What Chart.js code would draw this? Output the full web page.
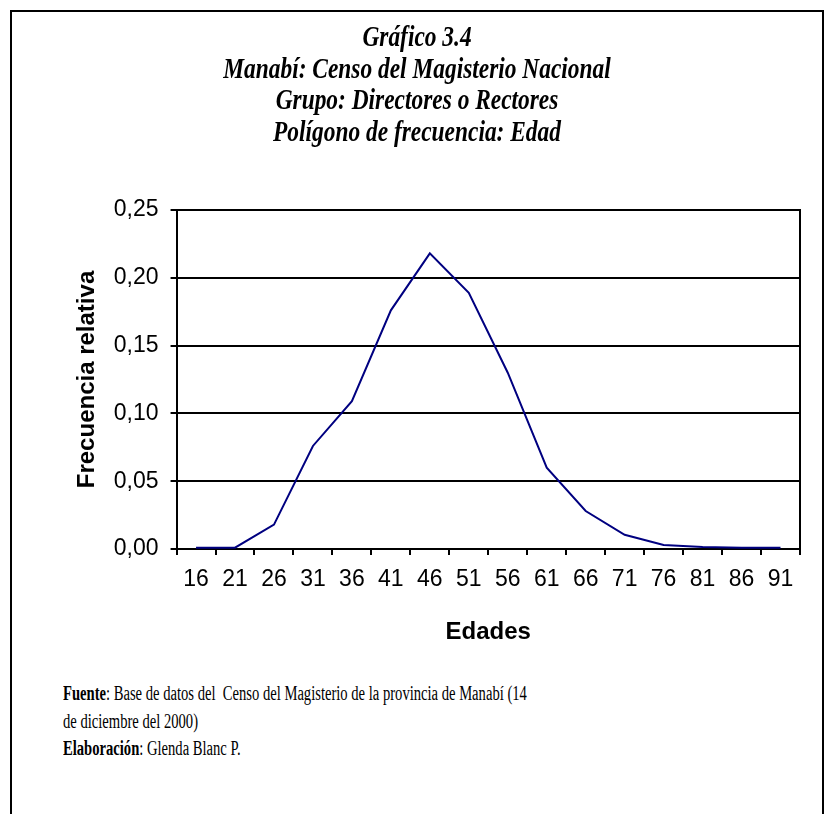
<!DOCTYPE html>
<html>
<head>
<meta charset="utf-8">
<script src="https://cdn.jsdelivr.net/npm/chart.js@4"></script>
<style>
  body { margin: 0; background: #fff; }
  #frame {
    position: absolute; left: 10px; top: 10px; width: 810px; height: 820px;
    border: 2px solid #000; border-bottom: none;
  }
  #box { position: absolute; left: 0; top: 0; width: 834px; height: 660px; }
  #titulo {
    position: absolute; left: 0; top: 20px; width: 834px; text-align: center;
    font-family: "Liberation Serif", serif; font-weight: bold; font-style: italic;
    font-size: 30px; line-height: 31.7px; color: #000;
    transform: scaleX(0.78); transform-origin: 417px 0;
  }
  #foot {
    position: absolute; left: 63px; top: 680px; white-space: nowrap;
    font-family: "Liberation Serif", serif; font-size: 20px; line-height: 27.5px;
    color: #000; transform: scaleX(0.73); transform-origin: 0 0;
  }
</style>
</head>
<body>
<div id="frame"></div>
<div id="box"><canvas id="myChart"></canvas></div>
<div id="titulo"></div>
<div id="foot">
  <b>Fuente</b>: Base de datos del&nbsp; Censo del Magisterio de la provincia de Manabí (14<br>
  de diciembre del 2000)<br>
  <b>Elaboración</b>: Glenda Blanc P.
</div>
<script>
// edades (marca de clase) y frecuencia relativa
const edades = ['16', '21', '26', '31', '36', '41', '46', '51', '56', '61', '66', '71', '76', '81', '86', '91'];
const frecRelativa = [0.001, 0.001, 0.018, 0.076, 0.109, 0.176, 0.218, 0.189, 0.130, 0.060, 0.028, 0.0105, 0.003, 0.0015, 0.001, 0.001];
const tituloLineas = ['Gráfico 3.4', 'Manabí: Censo del Magisterio Nacional', 'Grupo: Directores o Rectores', 'Polígono de frecuencia: Edad'];

document.getElementById('titulo').innerHTML = tituloLineas.join('<br>');

function coma(v) {
    return v.toFixed(2).replace('.', ',');
}

var ctx = document.getElementById('myChart').getContext('2d');
var chart = new Chart(ctx, {
    type: 'line',
    data: {
        labels: edades,
        datasets: [{
            label: 'Frecuencia relativa',
            data: frecRelativa,
            borderColor: '#000080',
            borderWidth: 2,
            pointRadius: 0,
            tension: 0,
            fill: false
        }]
    },
    options: {
        responsive: true,
        maintainAspectRatio: false,
        animation: false,
        layout: { padding: { left: 73, right: 26, bottom: 13.6, top: 210 } },
        plugins: {
            legend: { display: false },
            tooltip: { enabled: false }
        },
        scales: {
            x: {
                offset: true,
                grid: { offset: true, drawOnChartArea: false, drawTicks: true, tickLength: 6, color: '#000', lineWidth: 2 },
                border: { color: '#000', width: 2 },
                ticks: { color: '#000', font: { family: 'Liberation Sans', size: 23 }, padding: 11, maxRotation: 0, autoSkip: false },
                title: { display: true, text: 'Edades', color: '#000', font: { family: 'Liberation Sans', size: 24, weight: 'bold' }, padding: { top: 13, bottom: 0 } }
            },
            y: {
                min: 0,
                max: 0.25,
                ticks: { stepSize: 0.05, color: '#000', font: { family: 'Liberation Sans', size: 23 }, padding: 12, callback: coma },
                grid: { color: '#000', lineWidth: 2, tickLength: 6 },
                border: { color: '#000', width: 2 },
                title: { display: true, text: 'Frecuencia relativa', color: '#000', font: { family: 'Liberation Sans', size: 24, weight: 'bold' }, padding: { top: 0, bottom: 0 } }
            },
            yRight: {
                position: 'right',
                min: 0,
                max: 0.25,
                ticks: { display: false },
                grid: { display: false },
                border: { display: true, color: '#000', width: 2 }
            }
        }
    }
});
</script>
</body>
</html>
